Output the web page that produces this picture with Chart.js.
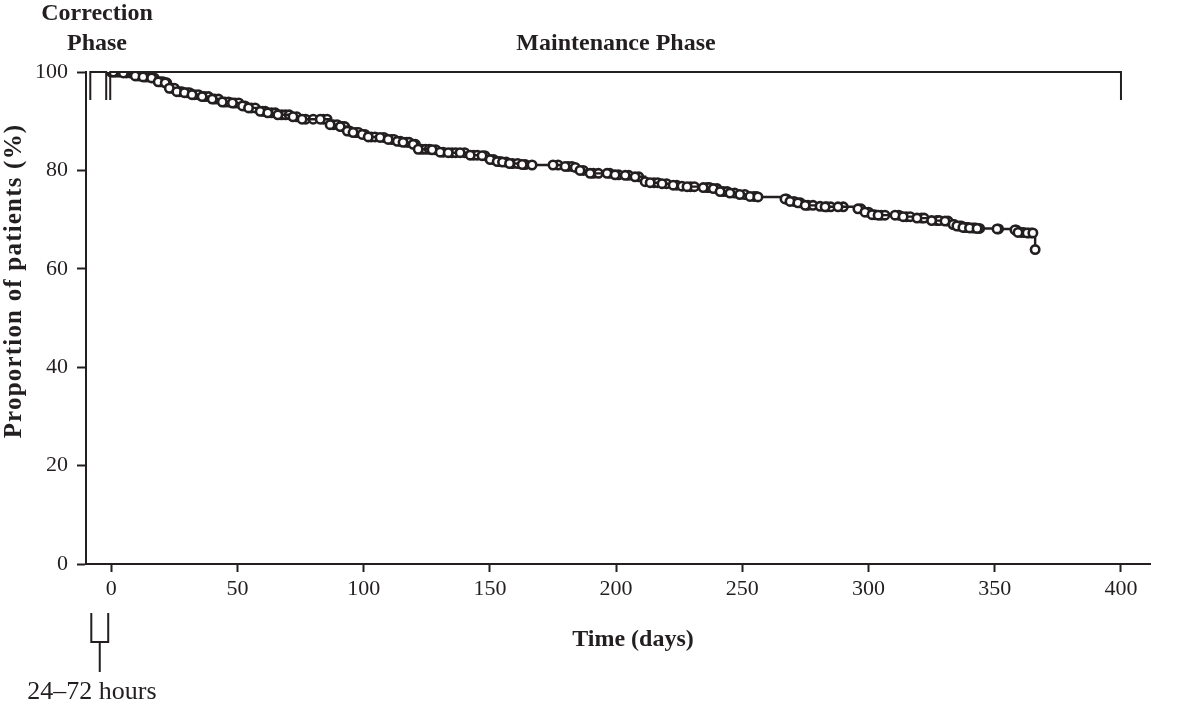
<!DOCTYPE html>
<html>
<head>
<meta charset="utf-8">
<script src="https://cdn.jsdelivr.net/npm/chart.js@4.4.1/dist/chart.umd.min.js"></script>
<style>
  html, body { margin: 0; padding: 0; background: #ffffff; }
  #wrap { width: 1181px; height: 704px; position: relative; }
</style>
</head>
<body>
<div id="wrap"><canvas id="c" width="1181" height="704"></canvas></div>
<script>
// ---- data ----
// Kaplan–Meier steps: day of step and proportion after it
const days = [0, 0.8, 4.8, 9.5, 12.6, 16, 18.6, 21.4, 23, 26, 29, 32, 36, 40, 44, 48, 52, 54.4, 59, 62, 66, 72, 75.6, 82.8,
  86.7, 90.7, 93.5, 95.8, 99.4, 101.8, 106.5, 109.7, 113.3, 115.6, 119.6, 121.6, 127.1, 130.3, 133.5, 138.2, 142.2, 146.9,
  150.1, 152.9, 155, 157.8, 162.8, 166.7, 175, 179.8, 183.8, 185.7, 189.7, 196.4, 199.6, 203.6, 207.5, 211.5, 213.5, 218.2,
  222.6, 226.1, 228.1, 234.5, 238.5, 241.2, 245.1, 249, 253, 256.2, 266.9, 268.9, 272, 274.9, 280.8, 282.8, 287.9, 295.8,
  298.6, 301.4, 303.8, 310.5, 313.7, 319.2, 325, 330.3, 333.5, 335, 337.4, 340, 343, 350.9, 358, 359.2, 362.8, 365.1, 366];
const proportion = [100, 100, 99.8, 99.2, 99.0, 98.8, 98.0, 97.8, 96.7, 96.0, 95.8, 95.4, 95.0, 94.5, 93.9, 93.7, 93.1, 92.7, 92.0, 91.7, 91.3, 90.9, 90.4, 90.4,
  89.3, 88.9, 88.0, 87.7, 87.3, 86.8, 86.7, 86.3, 85.9, 85.7, 85.3, 84.3, 84.2, 83.7, 83.6, 83.6, 83.1, 83.0,
  82.2, 81.8, 81.7, 81.4, 81.2, 81.1, 81.1, 80.8, 80.6, 80.0, 79.4, 79.4, 79.1, 79.0, 78.7, 77.7, 77.5, 77.3,
  77.0, 76.8, 76.7, 76.5, 76.3, 75.7, 75.4, 75.1, 74.7, 74.6, 74.2, 73.7, 73.4, 72.9, 72.7, 72.6, 72.6, 72.2,
  71.5, 71.0, 70.9, 70.9, 70.6, 70.3, 69.8, 69.7, 69.0, 68.7, 68.4, 68.3, 68.2, 68.1, 67.9, 67.4, 67.3, 67.3, 63.9];
// additional censoring marks (days), read as the dense circles along the curve
const censorDays = [1.5, 2.5, 3.5, 6, 7.5, 8.5, 10.5, 11.5, 13.5, 14.5, 17, 19.5, 20.5, 22, 24, 25, 27, 28, 30, 31, 33, 34.5, 37,
  38.5, 41, 42.5, 45, 46.5, 49, 50.5, 53, 55.5, 57, 60, 61, 63.5, 65, 67.5, 69, 70.5, 73.5, 77, 80, 84, 85.5, 88, 89.5,
  91.5, 92.5, 94.5, 97, 98, 100.5, 103, 104.5, 108, 111, 112, 114.5, 117, 118, 120.5, 123, 124.5, 126, 128.5, 131.5, 135,
  136.5, 140, 143.5, 145, 148, 151.5, 154, 156.5, 159, 161, 164, 177, 181, 182.5, 187, 191, 193, 197.5, 201, 205, 209,
  215, 216.5, 220, 224, 229.5, 231, 236, 237, 240, 242.5, 244, 247, 251, 254.5, 255.5, 267.5, 270.5, 273, 276, 278,
  283.5, 285, 290, 297, 300, 302.5, 305, 306.5, 312, 315, 316.5, 321, 322, 327, 328, 331.5, 334, 336, 336.8, 338,
  338.8, 339.5, 341, 341.8, 342.5, 344, 351.5, 358.5, 360.5, 361.5, 363.5, 364.5];
const xTicks = [0, 50, 100, 150, 200, 250, 300, 350, 400];
const yTicks = [0, 20, 40, 60, 80, 100];
const correctionPhase = [-8.3, -2];     // bracket span (days)
const maintenancePhase = [-0.4, 400];   // bracket span (days)
const windowBracket = [-7.9, -1.2];     // 24–72 hours bracket span (days)

const INK = '#231f20';
const SERIF = '"Liberation Serif", "Times New Roman", serif';

function stepValueAt(d) {
  let v = proportion[0];
  for (let i = 0; i < days.length; i++) { if (days[i] <= d) v = proportion[i]; else break; }
  return v;
}

const annotations = {
  id: 'annotations',
  afterDraw(chart) {
    const ctx = chart.ctx, xs = chart.scales.x, ys = chart.scales.y;
    ctx.save();
    ctx.strokeStyle = INK;
    ctx.lineWidth = 2;
    ctx.lineCap = 'butt';
    const top = ys.getPixelForValue(100);
    const bot = top + 28;
    function capBracket(a, b) {
      const x1 = xs.getPixelForValue(a), x2 = xs.getPixelForValue(b);
      ctx.beginPath();
      ctx.moveTo(x1, bot); ctx.lineTo(x1, top); ctx.lineTo(x2, top); ctx.lineTo(x2, bot);
      ctx.stroke();
    }
    capBracket(correctionPhase[0], correctionPhase[1]);
    capBracket(maintenancePhase[0], maintenancePhase[1]);

    const bx1 = xs.getPixelForValue(windowBracket[0]), bx2 = xs.getPixelForValue(windowBracket[1]);
    const bTop = 613, bBot = 642, stem = 672;
    ctx.beginPath();
    ctx.moveTo(bx1, bTop); ctx.lineTo(bx1, bBot); ctx.lineTo(bx2, bBot); ctx.lineTo(bx2, bTop);
    ctx.moveTo((bx1 + bx2) / 2, bBot); ctx.lineTo((bx1 + bx2) / 2, stem);
    ctx.stroke();

    ctx.fillStyle = INK;
    ctx.textAlign = 'center';
    ctx.textBaseline = 'middle';
    ctx.font = 'bold 24px ' + SERIF;
    ctx.fillText('Correction', 97, 14);
    ctx.fillText('Phase', 97, 44);
    ctx.fillText('Maintenance Phase', 616, 44);
    ctx.fillText('Time (days)', 633, 640);
    ctx.font = '26px ' + SERIF;
    ctx.fillText('24\u201372 hours', 92, 692);

    ctx.translate(15, 281);
    ctx.rotate(-Math.PI / 2);
    ctx.font = 'bold 25px ' + SERIF;
    try { ctx.letterSpacing = '1.2px'; } catch (e) {}
    ctx.fillText('Proportion of patients (%)', 0, 0);
    ctx.restore();
  }
};

new Chart(document.getElementById('c'), {
  type: 'line',
  data: {
    datasets: [{
      data: days.map((d, i) => ({ x: d, y: proportion[i] })),
      stepped: 'before',
      borderColor: INK,
      borderWidth: 2.4,
      pointRadius: 4.2,
      pointBorderWidth: 2.6,
      pointBackgroundColor: '#ffffff',
      pointBorderColor: INK,
      fill: false
    }, {
      data: censorDays.map(d => ({ x: d, y: stepValueAt(d) })),
      showLine: false,
      pointRadius: 4.2,
      pointBorderWidth: 2.6,
      pointBackgroundColor: '#ffffff',
      pointBorderColor: INK
    }]
  },
  options: {
    responsive: false,
    animation: false,
    devicePixelRatio: 1,
    layout: { padding: { top: 72, right: 31, bottom: 90, left: 0 } },
    plugins: { legend: { display: false }, tooltip: { enabled: false }, title: { display: false } },
    scales: {
      x: {
        type: 'linear',
        min: -10,
        max: 411.5,
        afterBuildTicks(scale) { scale.ticks = xTicks.map(v => ({ value: v })); },
        afterFit(scale) { scale.height = 50; },
        ticks: { color: INK, font: { family: SERIF, size: 22 }, padding: 4, maxRotation: 0, callback: v => String(v) },
        grid: { drawOnChartArea: false, drawTicks: true, tickLength: 8, tickColor: INK, tickWidth: 2 },
        border: { display: true, color: INK, width: 2 }
      },
      y: {
        type: 'linear',
        min: 0,
        max: 100,
        afterBuildTicks(scale) { scale.ticks = yTicks.map(v => ({ value: v })); },
        afterFit(scale) { scale.width = 86; },
        ticks: { color: INK, font: { family: SERIF, size: 22 }, padding: 9, callback: v => String(v) },
        grid: { drawOnChartArea: false, drawTicks: true, tickLength: 9, tickColor: INK, tickWidth: 2 },
        border: { display: true, color: INK, width: 2 }
      }
    }
  },
  plugins: [annotations]
});
</script>
</body>
</html>
